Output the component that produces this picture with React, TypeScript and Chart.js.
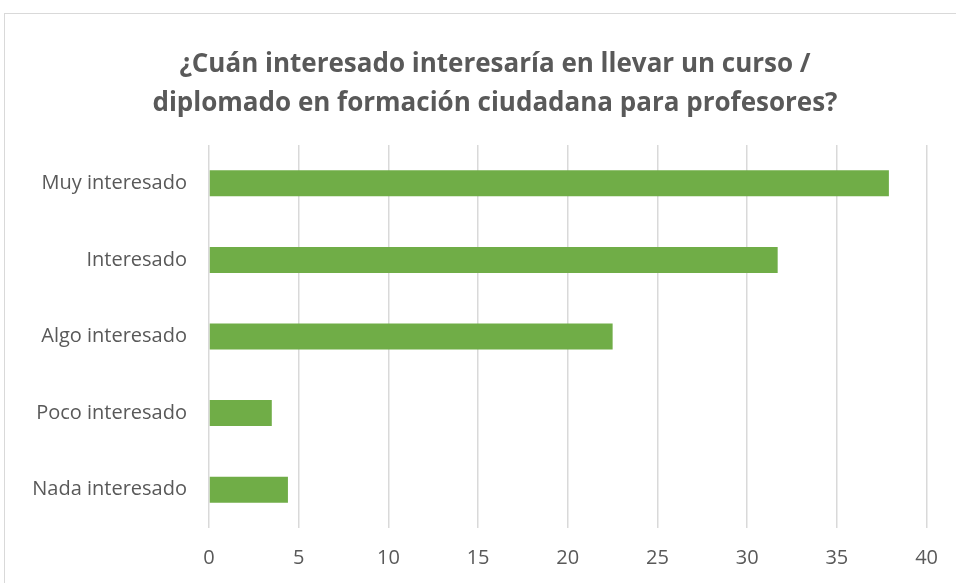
import React, { useEffect, useRef } from "react";
import { Chart, registerables } from "chart.js";

Chart.register(...registerables);

const categories: string[] = [
  "Muy interesado",
  "Interesado",
  "Algo interesado",
  "Poco interesado",
  "Nada interesado",
];
const values: number[] = [37.9, 31.7, 22.5, 3.5, 4.4];
const titleLines: string[] = [
  "¿Cuán interesado interesaría en llevar un curso /",
  "diplomado en formación ciudadana para profesores?",
];
const xMin = 0;
const xMax = 40;
const xStep = 5;

const FONT = "'Open Sans', sans-serif";
const TEXT = "#595959";

export default function App() {
  const ref = useRef<HTMLCanvasElement | null>(null);

  useEffect(() => {
    if (!ref.current) return;
    const chart = new Chart(ref.current, {
      type: "bar",
      data: {
        labels: categories,
        datasets: [
          {
            data: values,
            backgroundColor: "#70AD47",
            borderWidth: 0,
            categoryPercentage: 1,
            barPercentage: 0.34,
          },
        ],
      },
      options: {
        indexAxis: "y",
        animation: false,
        responsive: false,
        maintainAspectRatio: false,
        layout: { padding: { left: 0, right: 26, top: 145, bottom: 0 } },
        plugins: {
          legend: { display: false },
          tooltip: { enabled: false },
          title: { display: false },
        },
        scales: {
          x: {
            min: xMin,
            max: xMax,
            ticks: {
              stepSize: xStep,
              color: TEXT,
              font: { family: FONT, size: 20 },
              padding: 18,
            },
            grid: { color: "#d9d9d9", lineWidth: 1.5, drawTicks: false },
            border: { display: false },
            afterFit: (s: any) => {
              s.height = 55;
            },
          },
          y: {
            ticks: {
              color: TEXT,
              font: { family: FONT, size: 20 },
              padding: 22,
            },
            grid: { display: false, drawTicks: false },
            border: { display: false },
            afterFit: (s: any) => {
              s.width = 209;
            },
          },
        },
      },
    });
    return () => chart.destroy();
  }, []);

  return (
    <div
      style={{
        position: "fixed",
        left: 0,
        top: 0,
        width: 956,
        height: 583,
        overflow: "hidden",
        background: "#fff",
      }}
    >
      <div
        style={{
          position: "absolute",
          left: 4,
          top: 13,
          width: 1000,
          height: 700,
          border: "1.5px solid #d9d9d9",
          boxSizing: "border-box",
        }}
      />
      <canvas
        ref={ref}
        width={956}
        height={583}
        style={{ position: "absolute", left: 0, top: 0, width: 956, height: 583 }}
      />
      <div
        style={{
          position: "absolute",
          left: 0,
          top: 43,
          width: 990,
          textAlign: "center",
          fontFamily: FONT,
          fontWeight: 700,
          fontSize: 26,
          lineHeight: "39px",
          color: TEXT,
          whiteSpace: "nowrap",
        }}
      >
        {titleLines.map((t, i) => (
          <div key={i}>{t}</div>
        ))}
      </div>
    </div>
  );
}
